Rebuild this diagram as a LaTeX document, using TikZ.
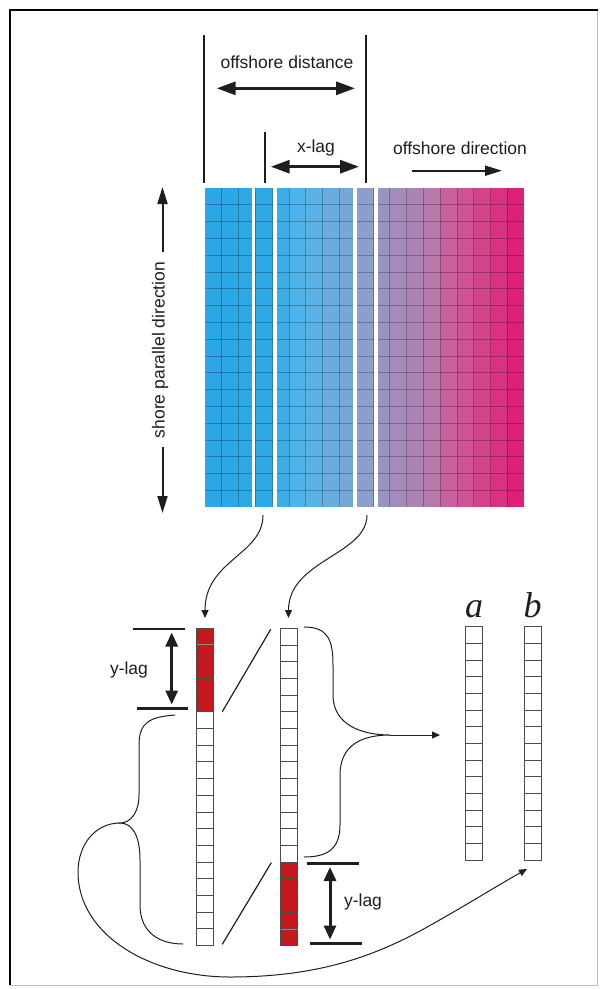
\documentclass[tikz,border=0pt]{standalone}
\usepackage{fontspec}
\setmainfont{Liberation Sans}
\newfontfamily\abfont{Liberation Serif}
\usetikzlibrary{arrows.meta}
\definecolor{k1}{HTML}{2BA8E5}
\definecolor{k2}{HTML}{2BA8E5}
\definecolor{k3}{HTML}{2DA9E5}
\definecolor{k4}{HTML}{2DAAE6}
\definecolor{k5}{HTML}{3DAEE8}
\definecolor{k6}{HTML}{4FB2E8}
\definecolor{k7}{HTML}{5BB1E4}
\definecolor{k8}{HTML}{68ADDD}
\definecolor{k9}{HTML}{76A8D6}
\definecolor{k10}{HTML}{8C9ECB}
\definecolor{k11}{HTML}{9895C3}
\definecolor{k12}{HTML}{A38CBB}
\definecolor{k13}{HTML}{AC84B4}
\definecolor{k14}{HTML}{B67BAC}
\definecolor{k15}{HTML}{C8619C}
\definecolor{k16}{HTML}{CE5393}
\definecolor{k17}{HTML}{D4448A}
\definecolor{k18}{HTML}{D83381}
\definecolor{k19}{HTML}{DB2178}
\definecolor{redcell}{HTML}{C4181D}
\definecolor{txt}{HTML}{1E1E1E}
\begin{document}
\begin{tikzpicture}[x=1pt,y=-1pt,
  lbl/.style={font=\fontsize{17.5}{20}\selectfont, text=txt, inner sep=0pt},
  abl/.style={font=\abfont\itshape\fontsize{36}{40}\selectfont, text=txt, inner sep=0pt, anchor=base},
  gridln/.style={draw=black, opacity=0.25, line width=0.9pt},
  cellln/.style={draw=black!70, line width=1pt},
  redln/.style={draw=black!45, line width=1.2pt},
  dimline/.style={line width=2pt, draw=txt},
  dblarrow/.style={line width=3pt, draw=txt, {Triangle[length=19pt,width=13pt]}-{Triangle[length=19pt,width=13pt]}},
  ylagarrow/.style={line width=3pt, draw=txt, {Triangle[length=14pt,width=12pt]}-{Triangle[length=14pt,width=12pt]}},
  dirarrow/.style={line width=2pt, draw=txt, -{Triangle[length=17pt,width=10pt]}},
  thinarrow/.style={line width=1pt, draw=txt, -{Triangle[length=8pt,width=7pt]}},
  curve/.style={line width=1pt, draw=txt},
  ylagbar/.style={line width=2.5pt, draw=txt}
]
\useasboundingbox (0,0) rectangle (604,989);
% frame
\draw[black!25, line width=1pt] (597,10) -- (597,985) -- (10,985);
\draw[black, line width=2.5pt] (10,985) -- (10,10) -- (598,10);

% ---------- gradient grid ----------
\foreach \i in {1,...,19} {
  \fill[k\i] ({205+(\i-1)*16.8},188) rectangle ++(16.8,319.2);
}
\foreach \k in {1,...,18} {
  \draw[gridln] ({205+\k*16.8},188) -- ++(0,319.2);
  \draw[gridln] (205,{188+\k*16.8}) -- ++(319.2,0);
}
\fill[white] (251.7,186) rectangle (255,510);
\fill[white] (272.7,186) rectangle (276.7,510);
\fill[white] (353.3,186) rectangle (356.7,510);
\fill[white] (374,186) rectangle (378.3,510);

% ---------- top annotations ----------
\coordinate (vl1t) at (204,35);   \coordinate (vl1b) at (204,183);
\coordinate (vl2t) at (365.7,35); \coordinate (vl2b) at (365.7,183);
\coordinate (vl3t) at (265,131.7); \coordinate (vl3b) at (265,183);
\draw[dimline] (vl1t) -- (vl1b);
\draw[dimline] (vl2t) -- (vl2b);
\draw[dimline] (vl3t) -- (vl3b);
\node[lbl] (odist) at (287,62) {offshore distance};
\coordinate (odL) at (216.7,88.3); \coordinate (odR) at (355,88.3);
\draw[dblarrow] (odL) -- (odR);
\node[lbl] (xlag) at (316,148) {x-lag};
\coordinate (xlL) at (270.7,166.7); \coordinate (xlR) at (359,166.7);
\draw[dblarrow] (xlL) -- (xlR);
\node[lbl] (odir) at (460,148) {offshore direction};
\coordinate (dirL) at (411.7,170.7); \coordinate (dirR) at (502,170.7);
\draw[dirarrow] (dirL) -- (dirR);

% shore parallel direction
\node[lbl, rotate=90] (spd) at (160,350) {shore parallel direction};
\coordinate (upS) at (162.5,252); \coordinate (upT) at (162.5,187);
\coordinate (dnS) at (162.5,447); \coordinate (dnT) at (162.5,513);
\draw[dirarrow] (upS) -- (upT);
\draw[dirarrow] (dnS) -- (dnT);

% ---------- bottom columns ----------
% left column (red top 5)
\fill[redcell] (196,628.3) rectangle (213.3,711.8);
\foreach \k in {1,...,4} {
  \draw[redln] (196,{628.3+\k*16.7}) -- ++(17.3,0);
}
\foreach \k in {0,...,18} {
  \draw[cellln] (196,{628.3+\k*16.7}) rectangle ++(17.3,16.7);
}
% middle column (red bottom 5)
\fill[redcell] (280,{628.3+14*16.7}) rectangle (297.3,945.8);
\foreach \k in {15,...,18} {
  \draw[redln] (280,{628.3+\k*16.7}) -- ++(17.3,0);
}
\foreach \k in {0,...,18} {
  \draw[cellln] (280,{628.3+\k*16.7}) rectangle ++(17.3,16.7);
}
% a and b columns
\foreach \k in {0,...,13} {
  \draw[cellln] (465.7,{626.7+\k*16.67}) rectangle ++(17,16.67);
  \draw[cellln] (524,{626.7+\k*16.67}) rectangle ++(17.3,16.67);
}
\node[abl] (la) at (474,617) {a};
\node[abl] (lb) at (532.5,617) {b};

% arrows from grid columns
\coordinate (g4b) at (263,515);   \coordinate (lcT) at (205,618);
\coordinate (g10b) at (367,515);  \coordinate (mcT) at (288.5,618);
\draw[thinarrow] (g4b) .. controls (263,555) and (205,560) .. (lcT);
\draw[thinarrow] (g10b) .. controls (367,555) and (288.5,560) .. (mcT);

% diagonal lines
\coordinate (d1a) at (222.3,711.7); \coordinate (d1b) at (270.7,629.3);
\coordinate (d2a) at (222.3,944.3); \coordinate (d2b) at (271.3,862.7);
\draw[line width=1.2pt, draw=txt] (d1a) -- (d1b);
\draw[line width=1.2pt, draw=txt] (d2a) -- (d2b);

% upper y-lag
\coordinate (y1tL) at (133.3,629); \coordinate (y1tR) at (185,629);
\coordinate (y1bL) at (136.7,708.3); \coordinate (y1bR) at (188.3,708.3);
\draw[ylagbar] (y1tL) -- (y1tR);
\draw[ylagbar] (y1bL) -- (y1bR);
\coordinate (y1aT) at (171.7,632.5); \coordinate (y1aB) at (171.7,704.5);
\draw[ylagarrow] (y1aT) -- (y1aB);
\node[lbl] (ylag1) at (129,670) {y-lag};

% lower y-lag
\coordinate (y2tL) at (306.7,863.3); \coordinate (y2tR) at (359.3,863.3);
\coordinate (y2bL) at (310,943.3); \coordinate (y2bR) at (362,943.3);
\draw[ylagbar] (y2tL) -- (y2tR);
\draw[ylagbar] (y2bL) -- (y2bR);
\coordinate (y2aT) at (330,867); \coordinate (y2aB) at (330,939.5);
\draw[ylagarrow] (y2aT) -- (y2aB);
\node[lbl] (ylag2) at (363,902) {y-lag};

% right brace of middle column -> a
\coordinate (rbT) at (304,627); \coordinate (rbTip) at (390,735);
\coordinate (rbB) at (304,857); \coordinate (aIn) at (440,735);
\draw[curve] (rbT) .. controls (328,627) and (333,640) .. (333,665) -- (333,695)
  .. controls (333,725) and (362,735) .. (rbTip)
  .. controls (362,735) and (340,745) .. (340,775) -- (340,825)
  .. controls (340,850) and (326,857) .. (rbB);
\draw[thinarrow] (rbTip) -- (aIn);

% left brace of left column -> b
\coordinate (lbT) at (175,715); \coordinate (lbTip) at (120,823);
\coordinate (lbB) at (183,944); \coordinate (bIn) at (527,869);
\draw[curve] (lbT) .. controls (150,717) and (139,722) .. (139,745) -- (139,795)
  .. controls (139,812) and (131,823) .. (lbTip)
  .. controls (132,823) and (140,835) .. (140,860) -- (140,905)
  .. controls (140,933) and (160,944) .. (lbB);
\draw[thinarrow] (lbTip) .. controls (95,823) and (78,845) .. (78,872)
  .. controls (78,935) and (150,977) .. (230,977)
  .. controls (320,977) and (375,955) .. (420,931)
  .. controls (460,909) and (500,884) .. (bIn);
\end{tikzpicture}
\end{document}
